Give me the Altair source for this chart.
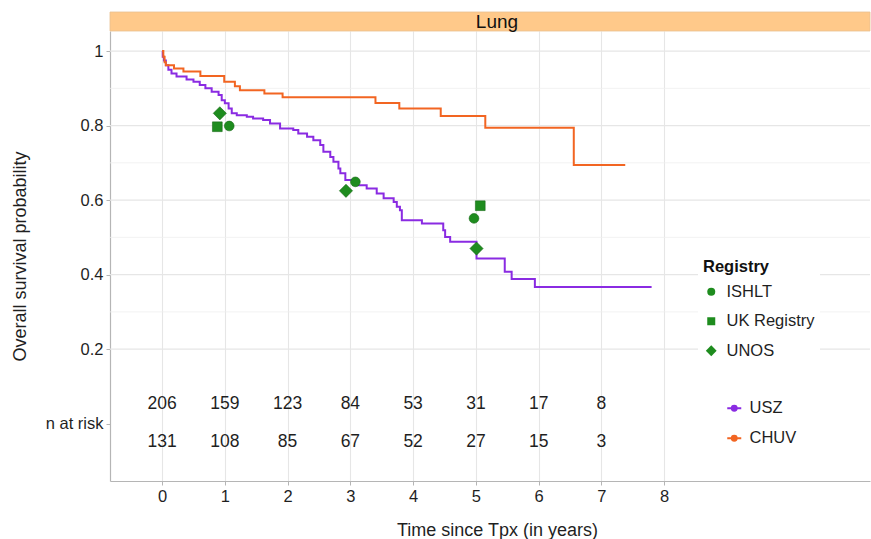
import altair as alt
import pandas as pd

# ---- data ----
usz_time = [0, 0.01, 0.03, 0.06, 0.10, 0.15, 0.23, 0.39, 0.50, 0.60, 0.69, 0.79, 0.90, 0.95,
            1.00, 1.06, 1.11, 1.19, 1.35, 1.45, 1.61, 1.72, 1.88, 2.09, 2.17, 2.31, 2.41, 2.52,
            2.57, 2.68, 2.73, 2.81, 2.84, 2.92, 3.10, 3.26, 3.42, 3.53, 3.69, 3.74, 3.79, 3.82,
            4.14, 4.48, 4.51, 4.59, 5.01, 5.46, 5.57, 5.94, 7.80]
usz_surv = [1.0, 0.985, 0.975, 0.962, 0.950, 0.940, 0.932, 0.924, 0.918, 0.909, 0.900, 0.891,
            0.882, 0.868, 0.860, 0.846, 0.833, 0.828, 0.824, 0.819, 0.815, 0.806, 0.792, 0.788,
            0.779, 0.770, 0.761, 0.748, 0.730, 0.716, 0.703, 0.685, 0.672, 0.654, 0.640, 0.631,
            0.618, 0.605, 0.595, 0.582, 0.573, 0.546, 0.537, 0.519, 0.501, 0.488, 0.443, 0.408,
            0.388, 0.367, 0.367]

chuv_time = [0, 0.02, 0.04, 0.06, 0.19, 0.34, 0.61, 0.99, 1.16, 1.24, 1.63, 1.92, 3.40, 3.78,
             4.44, 5.15, 6.56, 7.38]
chuv_surv = [1.0, 0.985, 0.970, 0.962, 0.953, 0.945, 0.933, 0.918, 0.906, 0.895, 0.886, 0.876,
             0.861, 0.846, 0.826, 0.794, 0.694, 0.694]

reg_name = ["ISHLT", "ISHLT", "ISHLT", "UK Registry", "UK Registry", "UNOS", "UNOS", "UNOS"]
reg_time = [1.07, 3.08, 4.97, 0.88, 5.07, 0.92, 2.93, 5.01]
reg_surv = [0.799, 0.649, 0.551, 0.797, 0.585, 0.833, 0.625, 0.470]

risk_time = [0, 1, 2, 3, 4, 5, 6, 7]
usz_risk = [206, 159, 123, 84, 53, 31, 17, 8]
chuv_risk = [131, 108, 85, 67, 52, 27, 15, 3]

x_ticks = [0, 1, 2, 3, 4, 5, 6, 7, 8]
y_ticks = [0, 0.2, 0.4, 0.6, 0.8, 1.0]
y_grid_major = [0.2, 0.4, 0.6, 0.8, 1.0]
y_grid_minor = [0.3, 0.5, 0.7, 0.9]
panel = ["Lung"]

centers = ["USZ", "CHUV"]
center_colors = ["#8A2BE2", "#F26522"]
registries = ["ISHLT", "UK Registry", "UNOS"]
DIAMOND = "M0,-1.35L1.35,0L0,1.35L-1.35,0Z"
reg_shapes = ["circle", "square", DIAMOND]

# ---- tables ----
curves = pd.concat([
    pd.DataFrame({"time": usz_time, "surv": usz_surv, "center": "USZ"}),
    pd.DataFrame({"time": chuv_time, "surv": chuv_surv, "center": "CHUV"}),
], ignore_index=True)
reg_df = pd.DataFrame({"time": reg_time, "surv": reg_surv, "registry": reg_name})
risk_df = pd.DataFrame({"time": risk_time, "usz": usz_risk, "chuv": chuv_risk})
grid_major_df = pd.DataFrame({"g": y_grid_major})
grid_minor_df = pd.DataFrame({"g": y_grid_minor})
panel_df = pd.DataFrame({"panel": panel})

W, H = 760, 450
FONT = "Liberation Sans"
TXT = "#1F1F1F"
GREEN = "#1E8C1E"
X_TITLE = "Time since Tpx (in years)"
Y_TITLE = "Overall survival probability"

xscale = alt.Scale(domain=[-0.83, 11.28], nice=False, zero=False)
yscale = alt.Scale(domain=[-0.154, 1.054], nice=False, zero=False)

x_axis = alt.Axis(values=x_ticks, format="d", grid=True, gridColor="#E6E6E6", gridWidth=1.1,
                  domainColor="#B5B5B5", domainWidth=1.2, tickColor="#B5B5B5", tickSize=4,
                  labelFontSize=16.5, labelColor=TXT, labelPadding=3, labelFont=FONT,
                  titleFontSize=18, titleFontWeight="normal", titleColor=TXT, titleFont=FONT,
                  titleX=387, titleY=49, titleBaseline="middle")
y_axis = alt.Axis(values=y_ticks, grid=False,
                  labelExpr="datum.value == 0 ? 'n at risk' : format(datum.value, '.1~f')",
                  domainColor="#B5B5B5", domainWidth=1.2, tickColor="#B5B5B5", tickSize=4,
                  labelFontSize=16.5, labelColor=TXT, labelPadding=3, labelFont=FONT,
                  titleFontSize=18, titleFontWeight="normal", titleColor=TXT, titleFont=FONT,
                  titleX=-90, titleBaseline="middle")


def X(field):
    return alt.X(field, scale=xscale, axis=x_axis, title=X_TITLE)


def Y(field):
    return alt.Y(field, scale=yscale, axis=y_axis, title=Y_TITLE)


grid_major = alt.Chart(grid_major_df).mark_rule(color="#E6E6E6", strokeWidth=1.1).encode(
    y=Y("g:Q"), x=alt.value(0), x2=alt.value(W))
grid_minor = alt.Chart(grid_minor_df).mark_rule(color="#EFEFEF", strokeWidth=0.8).encode(
    y=Y("g:Q"), x=alt.value(0), x2=alt.value(W))

strip = alt.Chart(panel_df).mark_rect(fill="#FFC98A", stroke="#E9C08F", strokeWidth=0.8).encode(
    x=alt.value(0), x2=alt.value(W), y=alt.value(-19), y2=alt.value(0))
strip_text = alt.Chart(panel_df).mark_text(fontSize=19, font=FONT, color="#111111", baseline="middle").encode(
    text="panel:N", x=alt.value(387), y=alt.value(-9.5))

line_symbol = ("M-1,0L1,0M-0.35,0A0.35,0.35,0,1,1,0.35,0A0.35,0.35,0,1,1,-0.35,0"
               "M-0.12,0A0.12,0.12,0,1,1,0.12,0A0.12,0.12,0,1,1,-0.12,0")

lines = alt.Chart(curves).mark_line(interpolate="step-after", strokeWidth=2).encode(
    x=X("time:Q"),
    y=Y("surv:Q"),
    color=alt.Color("center:N", scale=alt.Scale(domain=centers, range=center_colors),
                    legend=alt.Legend(title=None, orient="none", legendX=616, legendY=369,
                                      symbolType=line_symbol, symbolSize=196, symbolStrokeWidth=2,
                                      labelFontSize=16.5, labelColor=TXT, labelFont=FONT,
                                      labelOffset=7, rowPadding=13, padding=0)),
)

points = alt.Chart(reg_df).mark_point(filled=True, size=95, opacity=1, fill=GREEN,
                                      stroke="#176A17", strokeWidth=0.6).encode(
    x=X("time:Q"),
    y=Y("surv:Q"),
    shape=alt.Shape("registry:N", scale=alt.Scale(domain=registries, range=reg_shapes),
                    legend=alt.Legend(title="Registry", orient="none", legendX=588, legendY=223,
                                      fillColor="white", padding=5,
                                      titleFontSize=16.5, titleFontWeight="bold", titleColor="#111111",
                                      titleFont=FONT, titlePadding=8,
                                      labelFontSize=16.5, labelColor=TXT, labelFont=FONT, labelOffset=7,
                                      symbolSize=64, symbolFillColor=GREEN, symbolStrokeColor="#176A17",
                                      symbolStrokeWidth=0.5, rowPadding=12.5)),
)

risk_usz = alt.Chart(risk_df).mark_text(fontSize=17.5, font=FONT, color=TXT, baseline="middle").encode(
    x=X("time:Q"),
    y=alt.YDatum(0.053, scale=yscale, axis=y_axis, title=Y_TITLE),
    text="usz:Q")
risk_chuv = alt.Chart(risk_df).mark_text(fontSize=17.5, font=FONT, color=TXT, baseline="middle").encode(
    x=X("time:Q"),
    y=alt.YDatum(-0.049, scale=yscale, axis=y_axis, title=Y_TITLE),
    text="chuv:Q")

chart = alt.layer(grid_minor, grid_major, strip, strip_text, lines, points, risk_usz, risk_chuv).properties(
    width=W, height=H,
    autosize=alt.AutoSizeParams(type="none"),
    padding={"left": 110, "top": 31, "right": 1, "bottom": 58},
).configure(font=FONT, background="white").configure_view(stroke=None)

chart.save("out.html", embed_options={"renderer": "svg", "actions": False})
